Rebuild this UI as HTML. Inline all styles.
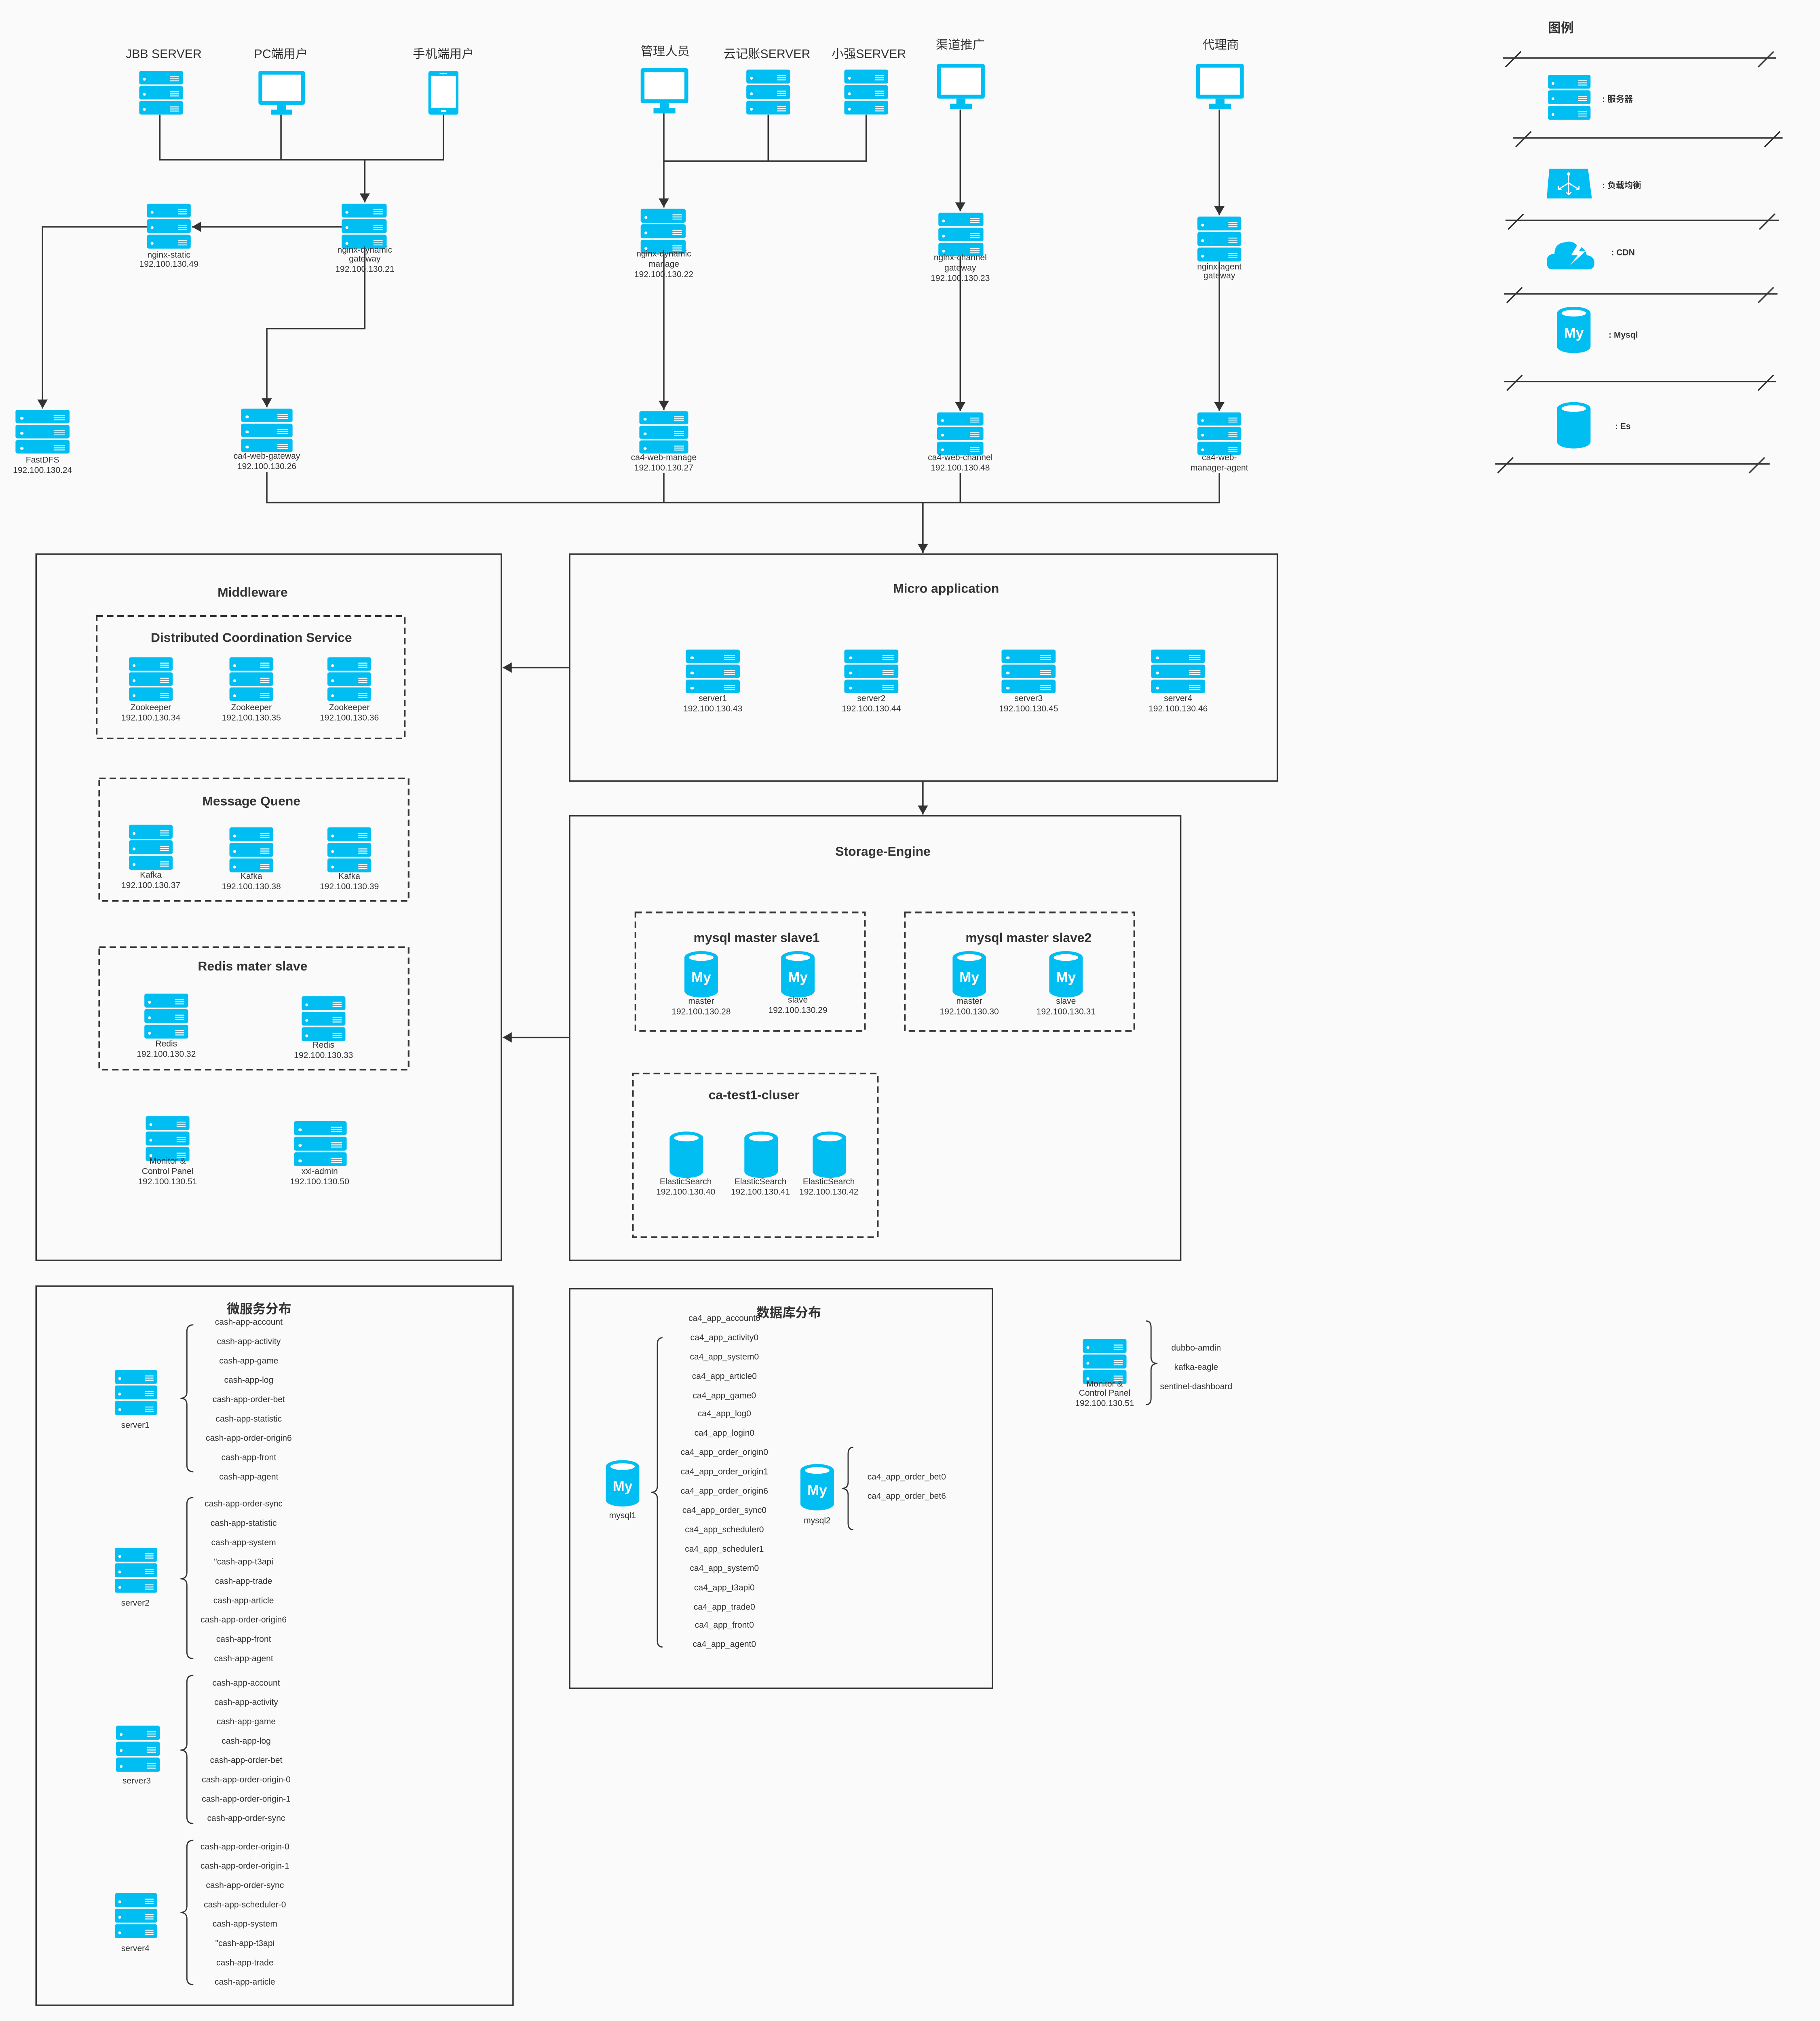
<!DOCTYPE html>
<html><head><meta charset="utf-8">
<style>
html,body{margin:0;padding:0;background:#fafafa;width:4502px;height:5059px;overflow:hidden;}
svg{display:block;vertical-align:top;}
text{font-family:"Liberation Sans","Noto Sans CJK SC",sans-serif;fill:#333;}
.s{font-size:6.6px;text-anchor:middle;}
.m{font-size:9.5px;text-anchor:middle;}
.b{font-size:10px;font-weight:bold;text-anchor:middle;}
.l{font-size:6.6px;}
.ln{stroke:#333;stroke-width:1.1;fill:none;}
.box{stroke:#333;stroke-width:1.1;fill:none;}
.dash{stroke:#333;stroke-width:1.3;fill:none;stroke-dasharray:5,3;}
</style></head>
<body>
<svg width="4502" height="5059" viewBox="0 0 1412 1586.7" xmlns="http://www.w3.org/2000/svg">
<defs>
<symbol id="srv" viewBox="0 0 34 34" preserveAspectRatio="none">
<g fill="#00BEF2"><rect x="0" y="0" width="34" height="10.5" rx="1.5"/><rect x="0" y="11.7" width="34" height="10.5" rx="1.5"/><rect x="0" y="23.4" width="34" height="10.5" rx="1.5"/></g>
<g fill="#fff"><circle cx="4" cy="6.5" r="1.1"/><circle cx="4" cy="18.2" r="1.1"/><circle cx="4" cy="29.9" r="1.1"/>
<rect x="24" y="4.2" width="7" height="0.7"/><rect x="24" y="5.8" width="7" height="0.7"/><rect x="24" y="7.4" width="7" height="0.7"/>
<rect x="24" y="15.9" width="7" height="0.7"/><rect x="24" y="17.5" width="7" height="0.7"/><rect x="24" y="19.1" width="7" height="0.7"/>
<rect x="24" y="27.6" width="7" height="0.7"/><rect x="24" y="29.2" width="7" height="0.7"/><rect x="24" y="30.8" width="7" height="0.7"/></g>
</symbol>
<symbol id="mon" viewBox="0 0 37 35">
<rect x="0" y="0" width="37" height="27" rx="1.5" fill="#00BEF2"/><rect x="3" y="3" width="31" height="21" fill="#fff"/>
<rect x="15" y="27" width="7" height="4.5" fill="#00BEF2"/><rect x="10" y="31" width="17" height="4" fill="#00BEF2"/>
</symbol>
<symbol id="phn" viewBox="0 0 24 35">
<rect x="0" y="0" width="24" height="35" rx="2" fill="#00BEF2"/><rect x="2" y="4" width="20" height="25.5" fill="#fff"/>
<rect x="9" y="1.5" width="6" height="1" fill="#fff"/><rect x="10" y="31.5" width="4" height="1.2" fill="#fff"/>
</symbol>
<symbol id="cyl" viewBox="0 0 26 36">
<path d="M0,5 A13,5 0 0 1 26,5 V31 A13,5 0 0 1 0,31 Z" fill="#00BEF2"/>
<ellipse cx="13" cy="5" rx="9.5" ry="2.6" fill="#fff"/>
</symbol>
<marker id="ar" markerWidth="8" markerHeight="8" refX="7" refY="4" orient="auto" markerUnits="userSpaceOnUse">
<path d="M0,0 L7,4 L0,8 Z" fill="#333"/></marker>
</defs>
<rect width="1412" height="1586.7" fill="#fafafa"/>

<text class="m" x="127" y="45">JBB SERVER</text>
<text class="m" x="218" y="45">PC端用户</text>
<text class="m" x="344" y="45">手机端用户</text>
<use href="#srv" x="108" y="55" width="34" height="34"/>
<use href="#mon" x="200" y="55" width="37" height="34"/>
<use href="#phn" x="332" y="55" width="24" height="34"/>
<path class="ln" d="M124,89 V124 H344 V89 M218,89 V124"/>
<path class="ln" d="M283,124 V157" marker-end="url(#ar)"/>
<use href="#srv" x="265" y="158" width="35" height="35"/>
<text class="s" x="283" y="196">nginx-dynamic</text><text class="s" x="283" y="203">gateway</text><text class="s" x="283" y="211">192.100.130.21</text>
<use href="#srv" x="114" y="158" width="34" height="35"/>
<text class="s" x="131" y="200">nginx-static</text><text class="s" x="131" y="207">192.100.130.49</text>
<path class="ln" d="M265,176 H149" marker-end="url(#ar)"/>
<path class="ln" d="M114,176 H33 V317" marker-end="url(#ar)"/>
<use href="#srv" x="12" y="318" width="42" height="34"/>
<text class="s" x="33" y="359">FastDFS</text><text class="s" x="33" y="367">192.100.130.24</text>
<path class="ln" d="M283,193 V255 H207 V316" marker-end="url(#ar)"/>
<use href="#srv" x="187" y="317" width="40" height="34"/>
<text class="s" x="207" y="356">ca4-web-gateway</text><text class="s" x="207" y="364">192.100.130.26</text>

<text class="m" x="516" y="43">管理人员</text>
<text class="m" x="595" y="45">云记账SERVER</text>
<text class="m" x="674" y="45">小强SERVER</text>
<use href="#mon" x="497" y="53" width="37" height="35"/>
<use href="#srv" x="579" y="54" width="34" height="35"/>
<use href="#srv" x="655" y="54" width="34" height="35"/>
<path class="ln" d="M515,88 V125 H672 V89 M596,89 V125"/>
<path class="ln" d="M515,125 V161" marker-end="url(#ar)"/>
<use href="#srv" x="497" y="162" width="35" height="35"/>
<text class="s" x="515" y="199">nginx-dynamic</text><text class="s" x="515" y="207">manage</text><text class="s" x="515" y="215">192.100.130.22</text>
<path class="ln" d="M515,197 V318" marker-end="url(#ar)"/>
<use href="#srv" x="496" y="319" width="38" height="33"/>
<text class="s" x="515" y="357">ca4-web-manage</text><text class="s" x="515" y="365">192.100.130.27</text>

<text class="m" x="745" y="38">渠道推广</text>
<use href="#mon" x="727" y="49" width="37" height="36"/>
<path class="ln" d="M745,85 V164" marker-end="url(#ar)"/>
<use href="#srv" x="728" y="165" width="35" height="34"/>
<text class="s" x="745" y="202">nginx-channel</text><text class="s" x="745" y="210">gateway</text><text class="s" x="745" y="218">192.100.130.23</text>
<path class="ln" d="M745,199 V319" marker-end="url(#ar)"/>
<use href="#srv" x="727" y="320" width="36" height="33"/>
<text class="s" x="745" y="357">ca4-web-channel</text><text class="s" x="745" y="365">192.100.130.48</text>

<text class="m" x="947" y="38">代理商</text>
<use href="#mon" x="928" y="49" width="37" height="36"/>
<path class="ln" d="M946,85 V167" marker-end="url(#ar)"/>
<use href="#srv" x="929" y="168" width="34" height="35"/>
<text class="s" x="946" y="209">nginx-agent</text><text class="s" x="946" y="216">gateway</text>
<path class="ln" d="M946,203 V319" marker-end="url(#ar)"/>
<use href="#srv" x="929" y="320" width="34" height="33"/>
<text class="s" x="946" y="357">ca4-web-</text><text class="s" x="946" y="365">manager-agent</text>

<path class="ln" d="M207,366 V390 H946 V367 M515,367 V390 M745,367 V390"/>
<path class="ln" d="M716,390 V429" marker-end="url(#ar)"/>

<text class="b" x="1211" y="25">图例</text>
<g class="ln">
<path d="M1166,45 H1378 M1168,52 L1180,40 M1364,52 L1376,40"/>
<path d="M1174,107 H1383 M1176,114 L1188,102 M1369,114 L1381,102"/>
<path d="M1168,171 H1380 M1170,178 L1182,166 M1365,178 L1377,166"/>
<path d="M1167,228 H1379 M1169,235 L1181,223 M1364,235 L1376,223"/>
<path d="M1167,296 H1378 M1169,303 L1181,291 M1364,303 L1376,291"/>
<path d="M1160,360 H1373 M1162,367 L1174,355 M1357,367 L1369,355"/>
</g>
<use href="#srv" x="1201" y="58" width="33" height="35"/>
<text class="l" x="1243" y="79" style="font-weight:bold">:  服务器</text>
<path d="M1202,131 H1232 L1235,154 H1200 Z" fill="#00BEF2"/>
<g stroke="#fff" stroke-width="0.9" fill="none"><path d="M1217,135 V151 M1217,142 L1209,147 M1217,142 L1225,147 M1209,147 l0,-2.5 M1209,147 l2.5,0 M1225,147 l0,-2.5 M1225,147 l-2.5,0 M1215,149 L1217,151 L1219,149"/></g>
<circle cx="1217" cy="135" r="1.3" fill="#fff"/>
<text class="l" x="1243" y="146" style="font-weight:bold">:  负载均衡</text>
<path d="M1204,209 Q1200,209 1200,203 Q1200,197 1206,197 Q1206,189 1214,188 Q1220,186 1224,191 Q1230,192 1231,198 Q1237,199 1237,204 Q1237,209 1232,209 Z" fill="#00BEF2"/>
<path d="M1225,188 L1219,198 H1224 L1218,206 L1230,195 H1225 L1229,188 Z" fill="#fff"/>
<text class="l" x="1250" y="198" style="font-weight:bold">:  CDN</text>
<use href="#cyl" x="1208" y="238" width="26" height="36"/>
<text x="1221" y="262" style="font-size:11px;font-weight:bold;fill:#fff;text-anchor:middle">My</text>
<text class="l" x="1248" y="262" style="font-weight:bold">:  Mysql</text>
<use href="#cyl" x="1208" y="312" width="26" height="36"/>
<text class="l" x="1253" y="333" style="font-weight:bold">:  Es</text>

<rect class="box" x="28" y="430" width="361" height="548"/>
<text class="b" x="196" y="463">Middleware</text>
<rect class="dash" x="75" y="478" width="239" height="95"/>
<text class="b" x="195" y="498">Distributed Coordination Service</text>
<use href="#srv" x="100" y="510" width="34" height="34"/>
<use href="#srv" x="178" y="510" width="34" height="34"/>
<use href="#srv" x="254" y="510" width="34" height="34"/>
<text class="s" x="117" y="551">Zookeeper</text><text class="s" x="117" y="559">192.100.130.34</text>
<text class="s" x="195" y="551">Zookeeper</text><text class="s" x="195" y="559">192.100.130.35</text>
<text class="s" x="271" y="551">Zookeeper</text><text class="s" x="271" y="559">192.100.130.36</text>
<rect class="dash" x="77" y="604" width="240" height="95"/>
<text class="b" x="195" y="625">Message Quene</text>
<use href="#srv" x="100" y="640" width="34" height="35"/>
<use href="#srv" x="178" y="642" width="34" height="35"/>
<use href="#srv" x="254" y="642" width="34" height="35"/>
<text class="s" x="117" y="681">Kafka</text><text class="s" x="117" y="689">192.100.130.37</text>
<text class="s" x="195" y="682">Kafka</text><text class="s" x="195" y="690">192.100.130.38</text>
<text class="s" x="271" y="682">Kafka</text><text class="s" x="271" y="690">192.100.130.39</text>
<rect class="dash" x="77" y="735" width="240" height="95"/>
<text class="b" x="196" y="753">Redis mater slave</text>
<use href="#srv" x="112" y="771" width="34" height="35"/>
<use href="#srv" x="234" y="773" width="34" height="35"/>
<text class="s" x="129" y="812">Redis</text><text class="s" x="129" y="820">192.100.130.32</text>
<text class="s" x="251" y="813">Redis</text><text class="s" x="251" y="821">192.100.130.33</text>
<use href="#srv" x="113" y="866" width="34" height="35"/>
<text class="s" x="130" y="903">Monitor &amp;</text><text class="s" x="130" y="911">Control Panel</text><text class="s" x="130" y="919">192.100.130.51</text>
<use href="#srv" x="228" y="870" width="41" height="35"/>
<text class="s" x="248" y="911">xxl-admin</text><text class="s" x="248" y="919">192.100.130.50</text>

<path class="ln" d="M442,518 H390" marker-end="url(#ar)"/>
<path class="ln" d="M442,805 H390" marker-end="url(#ar)"/>

<rect class="box" x="442" y="430" width="549" height="176"/>
<text class="b" x="734" y="460">Micro application</text>
<use href="#srv" x="532" y="504" width="42" height="34"/>
<use href="#srv" x="655" y="504" width="42" height="34"/>
<use href="#srv" x="777" y="504" width="42" height="34"/>
<use href="#srv" x="893" y="504" width="42" height="34"/>
<text class="s" x="553" y="544">server1</text><text class="s" x="553" y="552">192.100.130.43</text>
<text class="s" x="676" y="544">server2</text><text class="s" x="676" y="552">192.100.130.44</text>
<text class="s" x="798" y="544">server3</text><text class="s" x="798" y="552">192.100.130.45</text>
<text class="s" x="914" y="544">server4</text><text class="s" x="914" y="552">192.100.130.46</text>
<path class="ln" d="M716,606 V632" marker-end="url(#ar)"/>

<rect class="box" x="442" y="633" width="474" height="345"/>
<text class="b" x="685" y="664">Storage-Engine</text>
<rect class="dash" x="493" y="708" width="178" height="92"/>
<text class="b" x="587" y="731">mysql master slave1</text>
<rect class="dash" x="702" y="708" width="178" height="92"/>
<text class="b" x="798" y="731">mysql master slave2</text>
<g>
<use href="#cyl" x="531" y="738" width="26" height="36"/><text x="544" y="762" style="font-size:11px;font-weight:bold;fill:#fff;text-anchor:middle">My</text>
<use href="#cyl" x="606" y="738" width="26" height="36"/><text x="619" y="762" style="font-size:11px;font-weight:bold;fill:#fff;text-anchor:middle">My</text>
<use href="#cyl" x="739" y="738" width="26" height="36"/><text x="752" y="762" style="font-size:11px;font-weight:bold;fill:#fff;text-anchor:middle">My</text>
<use href="#cyl" x="814" y="738" width="26" height="36"/><text x="827" y="762" style="font-size:11px;font-weight:bold;fill:#fff;text-anchor:middle">My</text>
</g>
<text class="s" x="544" y="779">master</text><text class="s" x="544" y="787">192.100.130.28</text>
<text class="s" x="619" y="778">slave</text><text class="s" x="619" y="786">192.100.130.29</text>
<text class="s" x="752" y="779">master</text><text class="s" x="752" y="787">192.100.130.30</text>
<text class="s" x="827" y="779">slave</text><text class="s" x="827" y="787">192.100.130.31</text>
<rect class="dash" x="491" y="833" width="190" height="127"/>
<text class="b" x="585" y="853">ca-test1-cluser</text>
<use href="#cyl" x="519" y="878" width="27" height="36"/>
<use href="#cyl" x="577" y="878" width="27" height="36"/>
<use href="#cyl" x="630" y="878" width="27" height="36"/>
<text class="s" x="532" y="919">ElasticSearch</text><text class="s" x="532" y="927">192.100.130.40</text>
<text class="s" x="590" y="919">ElasticSearch</text><text class="s" x="590" y="927">192.100.130.41</text>
<text class="s" x="643" y="919">ElasticSearch</text><text class="s" x="643" y="927">192.100.130.42</text>

<rect class="box" x="28" y="998" width="370" height="558"/>
<text class="b" x="201" y="1019">微服务分布</text>
<use href="#srv" x="89" y="1063" width="33" height="35"/><text class="s" x="105" y="1108">server1</text>
<use href="#srv" x="89" y="1201" width="33" height="35"/><text class="s" x="105" y="1246">server2</text>
<use href="#srv" x="90" y="1339" width="34" height="36"/><text class="s" x="106" y="1384">server3</text>
<use href="#srv" x="89" y="1469" width="33" height="35"/><text class="s" x="105" y="1514">server4</text>
<g class="ln" style="stroke-width:0.9">
<path d="M150,1028 Q145,1028 145,1033 V1080 Q145,1085 140,1085 Q145,1085 145,1090 V1137 Q145,1142 150,1142"/>
<path d="M150,1162 Q145,1162 145,1167 V1220 Q145,1225 140,1225 Q145,1225 145,1230 V1282 Q145,1287 150,1287"/>
<path d="M150,1300 Q145,1300 145,1305 V1353 Q145,1358 140,1358 Q145,1358 145,1363 V1410 Q145,1415 150,1415"/>
<path d="M150,1428 Q145,1428 145,1433 V1479 Q145,1484 140,1484 Q145,1484 145,1489 V1535 Q145,1540 150,1540"/>
</g>
<g class="s">
<text x="193" y="1028">cash-app-account</text>
<text x="193" y="1043">cash-app-activity</text>
<text x="193" y="1058">cash-app-game</text>
<text x="193" y="1073">cash-app-log</text>
<text x="193" y="1088">cash-app-order-bet</text>
<text x="193" y="1103">cash-app-statistic</text>
<text x="193" y="1118">cash-app-order-origin6</text>
<text x="193" y="1133">cash-app-front</text>
<text x="193" y="1148">cash-app-agent</text>
<text x="189" y="1169">cash-app-order-sync</text>
<text x="189" y="1184">cash-app-statistic</text>
<text x="189" y="1199">cash-app-system</text>
<text x="189" y="1214">"cash-app-t3api</text>
<text x="189" y="1229">cash-app-trade</text>
<text x="189" y="1244">cash-app-article</text>
<text x="189" y="1259">cash-app-order-origin6</text>
<text x="189" y="1274">cash-app-front</text>
<text x="189" y="1289">cash-app-agent</text>
<text x="191" y="1308">cash-app-account</text>
<text x="191" y="1323">cash-app-activity</text>
<text x="191" y="1338">cash-app-game</text>
<text x="191" y="1353">cash-app-log</text>
<text x="191" y="1368">cash-app-order-bet</text>
<text x="191" y="1383">cash-app-order-origin-0</text>
<text x="191" y="1398">cash-app-order-origin-1</text>
<text x="191" y="1413">cash-app-order-sync</text>
<text x="190" y="1435">cash-app-order-origin-0</text>
<text x="190" y="1450">cash-app-order-origin-1</text>
<text x="190" y="1465">cash-app-order-sync</text>
<text x="190" y="1480">cash-app-scheduler-0</text>
<text x="190" y="1495">cash-app-system</text>
<text x="190" y="1510">"cash-app-t3api</text>
<text x="190" y="1525">cash-app-trade</text>
<text x="190" y="1540">cash-app-article</text>
</g>

<rect class="box" x="442" y="1000" width="328" height="310"/>
<text class="b" x="612" y="1022">数据库分布</text>
<use href="#cyl" x="470" y="1133" width="26" height="36"/><text x="483" y="1157" style="font-size:11px;font-weight:bold;fill:#fff;text-anchor:middle">My</text>
<text class="s" x="483" y="1178">mysql1</text>
<use href="#cyl" x="621" y="1136" width="26" height="36"/><text x="634" y="1160" style="font-size:11px;font-weight:bold;fill:#fff;text-anchor:middle">My</text>
<text class="s" x="634" y="1182">mysql2</text>
<g class="ln" style="stroke-width:0.9">
<path d="M514,1038 Q510,1038 510,1043 V1153 Q510,1158 505,1158 Q510,1158 510,1163 V1273 Q510,1278 514,1278"/>
<path d="M662,1123 Q658,1123 658,1128 V1150 Q658,1155 653,1155 Q658,1155 658,1160 V1182 Q658,1187 662,1187"/>
<path d="M889,1025 Q893,1025 893,1030 V1053 Q893,1058 898,1058 Q893,1058 893,1063 V1085 Q893,1090 889,1090"/>
</g>
<g class="s">
<text x="562" y="1025">ca4_app_account0</text>
<text x="562" y="1040">ca4_app_activity0</text>
<text x="562" y="1055">ca4_app_system0</text>
<text x="562" y="1070">ca4_app_article0</text>
<text x="562" y="1085">ca4_app_game0</text>
<text x="562" y="1099">ca4_app_log0</text>
<text x="562" y="1114">ca4_app_login0</text>
<text x="562" y="1129">ca4_app_order_origin0</text>
<text x="562" y="1144">ca4_app_order_origin1</text>
<text x="562" y="1159">ca4_app_order_origin6</text>
<text x="562" y="1174">ca4_app_order_sync0</text>
<text x="562" y="1189">ca4_app_scheduler0</text>
<text x="562" y="1204">ca4_app_scheduler1</text>
<text x="562" y="1219">ca4_app_system0</text>
<text x="562" y="1234">ca4_app_t3api0</text>
<text x="562" y="1249">ca4_app_trade0</text>
<text x="562" y="1263">ca4_app_front0</text>
<text x="562" y="1278">ca4_app_agent0</text>
</g>
<text class="l" x="673" y="1148">ca4_app_order_bet0</text>
<text class="l" x="673" y="1163">ca4_app_order_bet6</text>

<use href="#srv" x="840" y="1039" width="34" height="35"/>
<text class="s" x="857" y="1076">Monitor &amp;</text><text class="s" x="857" y="1083">Control Panel</text><text class="s" x="857" y="1091">192.100.130.51</text>
<text class="s" x="928" y="1048">dubbo-amdin</text>
<text class="s" x="928" y="1063">kafka-eagle</text>
<text class="s" x="928" y="1078">sentinel-dashboard</text>
</svg>
</body></html>
